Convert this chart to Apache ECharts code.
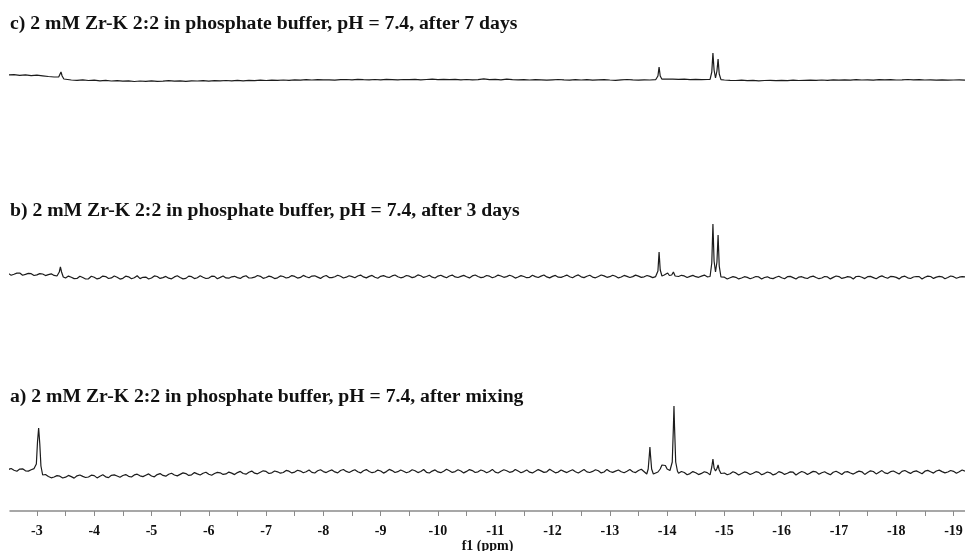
<!DOCTYPE html>
<html>
<head>
<meta charset="utf-8">
<script src="https://cdn.jsdelivr.net/npm/echarts@6/dist/echarts.min.js"></script>
<style>
  html, body { margin: 0; padding: 0; background: #fff; }
  #chart { width: 965px; height: 551px; }
</style>
</head>
<body>
<div id="chart"></div>
<script>
// 31P NMR traces, intensity in px above each trace's baseline
const titles = [
  'c) 2 mM Zr-K 2:2 in phosphate buffer, pH = 7.4, after 7 days',
  'b) 2 mM Zr-K 2:2 in phosphate buffer, pH = 7.4, after 3 days',
  'a) 2 mM Zr-K 2:2 in phosphate buffer, pH = 7.4, after mixing'
];
const tickLabels = [-3, -4, -5, -6, -7, -8, -9, -10, -11, -12, -13, -14, -15, -16, -17, -18, -19];
const tickMarks = [-2.5, -3, -3.5, -4, -4.5, -5, -5.5, -6, -6.5, -7, -7.5, -8, -8.5, -9, -9.5, -10, -10.5,
  -11, -11.5, -12, -12.5, -13, -13.5, -14, -14.5, -15, -15.5, -16, -16.5, -17, -17.5, -18, -18.5, -19];

// baseline samples: -2.5 ppm down to -19.2 ppm every 0.1 ppm,
// mid samples sit halfway between (-2.55 ... -19.15)
const baseStart = -2.5;
const baseStep = -0.1;

const baseC = [
  5, 5.3, 4.6, 5.1, 4.4, 4.8, 4.2, 3.5, 3.0, 2.8,
  0.5, 0, -0.3, 0.2, -0.5, -0.2, -0.8, -0.4, -1.0, -0.6,
  -1.2, -0.8, -1.5, -1.0, -1.3, -0.9, -1.4, -1.1, -0.7, -1.2,
  -0.9, -1.3, -0.8, -1.0, -0.6, -1.1, -0.7, -0.9, -0.5, -0.8,
  -0.4, -0.8, -0.3, -0.6, -0.2, -0.5, -0.1, -0.4, 0, -0.3,
  0.1, -0.2, 0.3, 0, 0.4, 0.1, 0.2, -0.1, 0.3, 0.5,
  0.2, 0.6, 0.3, 0.1, 0.5, 0.2, 0.7, 0.4, 0.1, 0.5,
  0.3, 0.6, 0.2, 0.5, 0.8, 0.4, 0.7, 0.3, 0.6, 0.2,
  0.5, 0.1, 0.4, 1.2, 0.3, 0.6, 0.2, 0.9, 0.4, 0.1,
  0.3, 0, 0.4, 0.1, -0.2, 0.2, 0.5, 0.1, -0.1, 0.3,
  0, 0.3, -0.2, 0.1, 0.4, 0, -0.3, 0.2, 0.5, 0.1,
  -0.2, 0.2, 0, 0.3, 0.4, 1.0, 0.8, 0.6, 0.9, 0.4,
  0.6, 0.3, 0.5, 0.2, 0.2, 0.0, -0.3, -0.5, -0.2, -0.6,
  -0.4, -0.8, -0.5, -0.3, -0.7, -0.4, -0.6, -0.2, -0.5, -0.3,
  -0.1, -0.4, 0, -0.3, 0.1, -0.2, 0.2, -0.1, 0.3, 0,
  0.2, -0.1, 0.3, 0.1, 0.4, 0, 0.2, 0.5, 0.1, 0.3,
  0, 0.2, -0.1, 0.1, -0.2, 0, 0.1, -0.1
];
const peaksC = [
  [[-3.38, 3], [-3.40, 5.5], [-3.42, 8], [-3.44, 4], [-3.47, 1]],
  [[-13.81, 0.3], [-13.84, 4], [-13.86, 13], [-13.88, 4], [-13.91, 0.8]],
  [[-14.75, 0.6], [-14.78, 8], [-14.80, 27], [-14.82, 10], [-14.845, 2], [-14.87, 9], [-14.89, 21], [-14.91, 6], [-14.94, 0.4]]
];

const baseB = [
  3.5, 2.8, 3.9, 2.6, 3.3, 2.1, 3.0, 2.4, 1.6, 2.2,
  -1.0, -0.2, -1.4, -0.5, -1.8, -0.3, -1.1, 0.4, -0.9, -0.2,
  -1.3, 0.2, -0.8, -1.6, -0.1, -1.0, 0.5, -0.6, -1.2, 0.1,
  -0.5, -1.4, 0.3, -0.7, -0.2, -1.1, 0.6, -0.4, -0.9, 0.2,
  -0.6, 0.4, -1.0, -0.2, 0.7, -0.5, 0.1, -0.8, 0.5, -0.3,
  0.6, -0.4, 0.2, 0.9, -0.1, 0.5, -0.6, 0.3, 0.8, -0.2,
  0.4, 1.0, 0.1, 0.6, -0.3, 0.7, 0.2, 1.1, 0.3, -0.1,
  0.8, 0.2, 1.2, 0.5, -0.2, 0.9, 0.4, 1.0, 0.1, 0.6,
  0.3, 1.1, 0.5, -0.1, 0.8, 0.2, 1.0, 0.4, 0.7, 0.0,
  0.5, -0.3, 0.4, 0.9, 0.1, 0.6, -0.2, 0.7, 0.3, 1.0,
  0.2, 0.8, -0.1, 0.5, 1.1, 0.3, 0.7, 0.0, 0.6, 0.4,
  0.9, 0.2, 0.6, 0.4, 0.3, 1.0, 0.8, 0.5, 1.1, 0.6,
  0.3, 0.9, 0.2, 0, 0, -0.2, -0.8, -0.3, -1.0, -0.4,
  -0.7, 0.1, -0.5, -1.1, -0.2, -0.8, 0.3, -0.6, -0.1, -0.9,
  0.2, -0.5, -1.0, 0.1, -0.4, 0.4, -0.7, -0.1, 0.5, -0.3,
  0.3, -0.6, 0.1, -0.2, 0.6, -0.4, 0.2, -0.8, 0.0, 0.4,
  -0.3, 0.5, -0.1, 0.2, -0.5, 0.3, -0.2, 0.1
];
const midB = [
  1.8, 3.9, 1.7, 3.6, 1.5, 3.4, 1.4, 3.2, 1.0, 0,
  0.9, -1.6, 0.8, -2.0, 0.7, -1.9, 0.9, -1.5, 1.0, -2.1,
  0.8, -1.7, 1.2, -0.3, -2.0, 1.1, -1.4, 0.6, -1.8, 1.3,
  -1.9, 0.9, -1.6, 1.2, -1.5, 0.8, -1.7, 1.0, -1.2, 0.7,
  -1.4, 1.3, -0.9, 1.5, -1.3, 0.9, -1.6, 1.1, -1.0, 1.4,
  -1.1, 1.6, -0.8, 1.2, -1.4, 1.5, -0.6, 1.8, -1.0, 1.3,
  -0.7, 1.9, -0.9, 1.6, -1.2, 1.4, -0.5, 2.0, -0.8, 1.5,
  -0.6, 2.1, -0.4, 1.7, -1.0, 1.8, -0.7, 1.9, -0.5, 1.6,
  -0.9, 2.0, -0.6, 1.5, -0.8, 1.9, -0.3, 1.7, -1.1, 1.4,
  -0.7, 1.8, -0.5, 2.0, -0.9, 1.6, -0.4, 1.9, -0.8, 2.1,
  -0.6, 1.7, -0.8, 2.0, -0.3, 1.8, -0.9, 1.6, -0.5, 1.9,
  -0.4, 1.5, -0.6, 0, 2.0, 0, -0.2, 1.7, -0.5, 1.6,
  -0.3, 1.9, -0.2, 0, -1.0, -2.0, 0.4, -1.9, 0.3, -1.7,
  0.5, -2.1, 0.2, -1.6, 0.8, -1.8, 0.6, -2.0, 0.3, -1.5,
  0.9, -1.7, 0.5, -1.9, 1.0, -1.4, 0.4, -2.0, 0.7, -1.6,
  0.6, -1.8, 1.1, -1.3, 0.3, -1.9, 0.8, -1.5, 0.5, -2.0,
  0.9, -1.4, 0.6, -1.7, 1.0, -1.2, 0.4
];
const peaksB = [
  [[-3.36, 1.5], [-3.39, 5], [-3.41, 10], [-3.43, 5], [-3.46, 0]],
  [[-13.81, 0.5], [-13.84, 6], [-13.86, 25], [-13.88, 7], [-13.91, 1]],
  [[-13.98, 1], [-14.01, 4], [-14.04, 1.5], [-14.08, 2], [-14.11, 5], [-14.14, 1]],
  [[-14.75, 0.5], [-14.78, 14], [-14.80, 53], [-14.82, 16], [-14.845, 5], [-14.87, 15], [-14.89, 42], [-14.91, 11], [-14.94, 0]]
];

const baseA = [
  2.5, 1.8, 2.9, 1.2, 2.2, 1.5, -3.5, -4.5, -5.0, -4.2,
  -5.2, -4.6, -3.8, -4.4, -5.0, -3.6, -4.2, -4.8, -3.3, -4.0,
  -3.5, -4.3, -2.9, -3.8, -3.2, -4.0, -2.6, -3.4, -2.2, -3.0,
  -2.4, -1.6, -2.8, -1.9, -1.2, -2.3, -1.5, -0.8, -1.9, -1.1,
  -0.6, -1.5, -0.3, -1.2, -0.2, 0.6, -0.8, 0.2, -0.5, 0.8,
  -0.1, 0.9, 0.3, -0.4, 1.2, 0.4, 1.0, 0.1, 1.5, 0.6,
  1.1, 0.2, 1.3, 0.5, 0.0, 1.0, 0.4, 1.4, 0.3, 0.8,
  0.2, 1.2, 0.5, -0.3, 0.9, 0.1, 0.7, 1.3, 0.4, 1.0,
  0.6, 1.4, 0.2, 1.0, 0.5, -0.1, 0.8, 1.2, 0.3, 0.9,
  0.4, -0.2, 0.7, 1.1, 0.2, 0.9, -0.1, 0.6, 1.0, 0.3,
  0.8, 0.1, 0.6, 1.2, 0.0, 0.5, 0.9, 0.2, 0.7, 0.3,
  1.5, 0.3, 0, -1.0, 0, 0, 0, -1.2, -0.5, -1.6,
  -0.8, -1.4, -0.6, 0, 0, -1.0, -1.8, -0.9, -1.5, -0.7,
  -1.2, -0.4, -1.6, -0.8, -1.9, -0.6, -1.3, -0.2, -1.1, -0.5,
  -0.9, 0.1, -0.7, -1.4, -0.3, -0.8, 0.0, -1.0, -0.4, 0.2,
  -0.6, 0.5, -0.2, -0.9, 0.3, -0.5, 0.6, -0.1, 0.4, -0.3,
  0.8, 0.2, 1.0, 0.4, 0.0, 0.7, 0.3, 0.9
];
const midA = [
  3.5, 0.8, 3.2, 0.9, 3.4, 0, -2.5, -5.8, -3.6, -6.0,
  -3.4, -6.1, -3.0, -5.5, -3.2, -5.9, -2.8, -5.6, -2.9, -5.2,
  -2.6, -5.0, -2.2, -4.6, -1.9, -4.8, -1.6, -4.2, -1.3, -3.9,
  -0.9, -3.4, -0.6, -3.0, -0.2, -3.3, -0.4, -2.4, -0.1, -2.6,
  0.6, -2.2, 0.9, -1.8, 1.2, -1.5, 1.0, -1.2, 1.6, -0.9,
  1.8, -0.8, 2.0, -1.0, 2.3, -0.6, 2.1, -0.9, 2.5, -0.5,
  2.2, -0.9, 2.4, -0.7, 1.9, -1.1, 2.6, -0.5, 2.0, -0.8,
  2.3, -0.6, 2.5, -1.0, 2.1, -0.7, 2.7, -0.4, 2.2, -0.9,
  2.4, -0.5, 2.0, -0.8, 2.6, -1.0, 2.2, -0.3, 2.5, -0.7,
  2.1, -0.9, 2.4, -0.4, 2.7, -0.8, 2.0, -0.6, 2.3, -1.0,
  2.5, -0.5, 2.2, -0.9, 2.6, -0.4, 2.0, -0.8, 2.4, -0.6,
  2.8, 0, 0, 0, 0, 1.5, 0, 0.5, -2.8, 0.4,
  -2.6, 0.3, -2.9, 0, -0.6, -2.8, 0.2, -3.0, 0.1, -2.5,
  0.3, -2.7, 0.0, -2.9, 0.4, -2.4, 0.1, -3.0, 0.5, -2.6,
  0.6, -2.3, 0.2, -2.8, 0.8, -2.5, 0.4, -2.1, 0.9, -2.4,
  1.2, -1.9, 1.4, -1.6, 1.0, -2.0, 1.5, -1.4, 1.1, -1.8,
  1.6, -1.1, 1.9, -0.9, 1.5, -1.2, 2.0
];
const peaksA = [
  [[-2.96, 1.5], [-2.99, 8], [-3.01, 30], [-3.03, 44], [-3.05, 28], [-3.07, 6], [-3.10, -3]],
  [[-13.645, -2], [-13.67, 3], [-13.69, 17], [-13.70, 25], [-13.71, 17], [-13.73, 3], [-13.76, -2]],
  [[-13.84, 0], [-13.88, 3], [-13.91, 7], [-13.94, 5], [-13.97, 6.5], [-14.00, 3]],
  [[-14.06, 2], [-14.09, 10], [-14.11, 45], [-14.12, 66], [-14.13, 45], [-14.15, 10], [-14.18, 1]],
  [[-14.76, -1], [-14.78, 5], [-14.80, 13], [-14.82, 4], [-14.845, 1], [-14.87, 3.5], [-14.89, 7], [-14.91, 2], [-14.94, -1.5]]
];

// merge baseline samples with peak points, dropping samples that sit inside a peak
function buildTrace(base, mid, peaks) {
  const pts = [];
  const inside = x => peaks.some(p => x <= p[0][0] && x >= p[p.length - 1][0]);
  base.forEach((v, i) => {
    const x = +(baseStart + i * baseStep).toFixed(2);
    if (!inside(x)) pts.push([x, v]);
  });
  mid.forEach((v, i) => {
    const x = +(baseStart + baseStep / 2 + i * baseStep).toFixed(2);
    if (!inside(x)) pts.push([x, v]);
  });
  peaks.forEach(p => p.forEach(q => pts.push(q)));
  pts.sort((a, b) => b[0] - a[0]);
  return pts;
}

// trace c is much quieter, so it only gets the coarse samples
const traces = [
  buildTrace(baseC, [], peaksC),
  buildTrace(baseB, midB, peaksB),
  buildTrace(baseA, midA, peaksA)
];

const serif = 'Liberation Serif';
const gridBox = [
  { left: 10, right: 0, top: 5, height: 100, outerBoundsMode: 'none' },
  { left: 10, right: 0, top: 202, height: 100, outerBoundsMode: 'none' },
  { left: 10, right: 0, top: 397, height: 114, outerBoundsMode: 'none' }
];
const yRange = [[-25, 75], [-25, 75], [-39, 75]];
const titleTop = [9, 196, 382];

const chart = echarts.init(document.getElementById('chart'));

chart.setOption({
  animation: false,
  backgroundColor: '#fff',
  title: titles.map((t, i) => ({
    text: t,
    left: 5,
    top: titleTop[i],
    textStyle: { fontFamily: serif, fontWeight: 'bold', fontSize: 19.7, color: '#111' }
  })),
  grid: gridBox,
  xAxis: gridBox.map((g, i) => ({
    type: 'value',
    gridIndex: i,
    inverse: true,
    min: -19.2,
    max: -2.53,
    show: i === 2,
    axisLine: { onZero: false, lineStyle: { color: '#8a8a8a', width: 1.5 } },
    axisTick: { customValues: tickMarks, length: 5, lineStyle: { color: '#8a8a8a' } },
    axisLabel: {
      customValues: tickLabels,
      margin: 13,
      fontFamily: serif,
      fontWeight: 'bold',
      fontSize: 14,
      color: '#111'
    },
    splitLine: { show: false },
    name: 'f1 (ppm)',
    nameLocation: 'middle',
    nameGap: 23,
    nameTextStyle: { fontFamily: serif, fontWeight: 'bold', fontSize: 14, color: '#111' }
  })),
  yAxis: gridBox.map((g, i) => ({
    type: 'value',
    gridIndex: i,
    min: yRange[i][0],
    max: yRange[i][1],
    show: false
  })),
  series: traces.map((d, i) => ({
    type: 'line',
    xAxisIndex: i,
    yAxisIndex: i,
    data: d,
    showSymbol: false,
    lineStyle: { color: '#1c1c1c', width: 1.2 }
  }))
});
</script>
</body>
</html>
